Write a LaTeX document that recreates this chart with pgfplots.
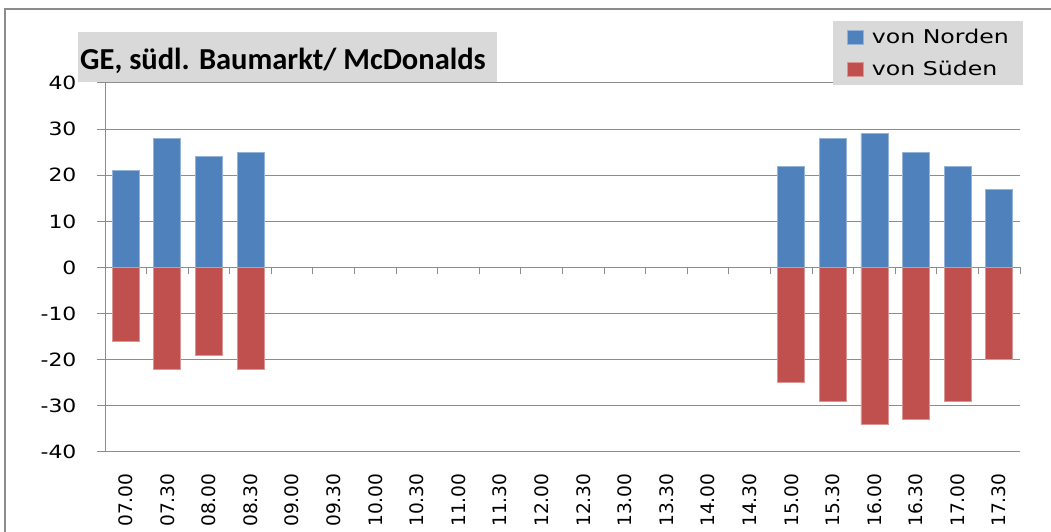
\documentclass[border=0pt]{standalone}
\usepackage{pgfplots}
\pgfplotsset{compat=1.18}
\usepackage{pgfplotstable}
\usepackage{fontspec}
\setmainfont{DejaVu Sans}
\newfontfamily\stretchfont[FakeStretch=1.2]{DejaVu Sans}
\newfontfamily\legfont[FakeStretch=1.245]{DejaVu Sans}
\newfontfamily\titlefont{Carlito}
\definecolor{barblue}{HTML}{4F81BD}
\definecolor{barred}{HTML}{C0504D}
\definecolor{gridgray}{HTML}{8C8C8C}
\definecolor{boxgray}{HTML}{D9D9D9}
\definecolor{framegray}{HTML}{8C8C8C}

\pgfplotstableread{
x north south
0 21 -16
1 28 -22
2 24 -19
3 25 -22
16 22 -25
17 28 -29
18 29 -34
19 25 -33
20 22 -29
21 17 -20
}\datatable

\begin{document}
\begin{tikzpicture}[x=1pt,y=1pt]
\useasboundingbox (0,0) rectangle (1051,532);
\draw[framegray, line width=2.5pt] (5,-20) -- (5,523) -- (1080,523);
\fill[boxgray] (78,450) rectangle (497,500);
\node[anchor=base west, inner sep=0pt, font=\titlefont\bfseries\fontsize{30.5}{36}\selectfont] at (80,462) {GE, südl. Baumarkt/ McDonalds};
\begin{axis}[
  at={(105pt,80pt)}, anchor=south west,
  scale only axis, width=915pt, height=369pt,
  xmin=-0.5, xmax=21.5, ymin=-40, ymax=40,
  axis y line*=left, axis x line*=bottom,
  x axis line style={draw=none},
  y axis line style={gridgray, line width=1pt},
  ytick={-40,-30,...,40},
  yticklabels={{-40},{-30},{-20},{-10},{0},{10},{20},{30},{40}},
  ymajorgrids, grid style={gridgray, line width=1pt},
  tick align=outside,
  ytick style={gridgray, line width=1pt},
  major tick length=8pt,
  yticklabel style={font=\stretchfont\fontsize{18.3}{22}\selectfont},
  yticklabel shift=17pt,
  xtick={0,...,21},
  xticklabels={07.00,07.30,08.00,08.30,09.00,09.30,10.00,10.30,11.00,11.30,12.00,12.30,13.00,13.30,14.00,14.30,15.00,15.30,16.00,16.30,17.00,17.30},
  xtick style={draw=none},
  xticklabel style={rotate=90, anchor=east, font=\fontsize{18.6}{22}\selectfont},
  xticklabel shift=10pt,
  ybar, bar width=27pt, bar shift=0pt,
  legend style={at={(1.0033,1.168)}, anchor=north east, fill=boxgray, draw=none,
    font=\legfont\fontsize{19}{22}\selectfont, inner xsep=12pt, inner ysep=6pt, row sep=12pt},
  legend cell align=left,
  legend image code/.code={\fill[#1] (2pt,-7pt) rectangle (18pt,7pt); \path (0pt,0pt) (24pt,0pt);},
]
\addplot[fill=barblue, draw=barblue!60!white, line width=0.8pt] table[x=x, y=north] {\datatable};
\addlegendentry{von Norden}
\addplot[fill=barred, draw=barred!60!white, line width=0.8pt] table[x=x, y=south] {\datatable};
\addlegendentry{von Süden}
\end{axis}
\begin{axis}[
  at={(105pt,80pt)}, anchor=south west,
  scale only axis, width=915pt, height=369pt,
  xmin=-0.5, xmax=21.5, ymin=-40, ymax=40,
  axis x line=middle, axis y line=none,
  x axis line style={draw=none},
  xtick={-0.5,0.5,...,21.5}, xticklabels={},
  tick align=outside, major tick length=7pt,
  xtick style={gridgray, line width=1pt},
]
\end{axis}
\end{tikzpicture}
\end{document}
